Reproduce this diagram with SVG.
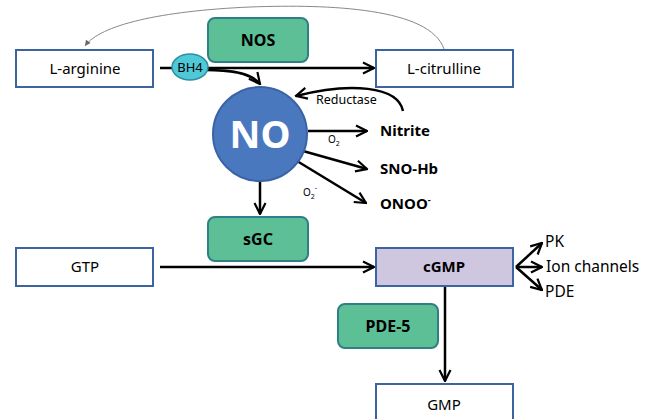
<svg xmlns="http://www.w3.org/2000/svg" width="651" height="419" viewBox="0 0 651 419">
<defs>
<marker id="ah" viewBox="0 0 10 10" refX="9" refY="5" markerWidth="5.5" markerHeight="5.5" orient="auto" markerUnits="strokeWidth"><path d="M1,1 L9,5 L1,9" fill="none" stroke="#000" stroke-width="1.6"/></marker>
<marker id="ahs" viewBox="0 0 10 10" refX="9" refY="5" markerWidth="7" markerHeight="7" orient="auto" markerUnits="strokeWidth"><path d="M1,1 L9,5 L1,9 Z" fill="#666"/></marker>
</defs>
<style>
text{font-family:"Noto Sans","Open Sans","Liberation Sans",sans-serif;fill:#000}
.box{fill:#fff;stroke:#3b64a0;stroke-width:2}
.enz{fill:#5cbf96;stroke:#2f7f86;stroke-width:2}
.lbl{font-size:15px;text-anchor:middle}
.elb{font-size:16px;font-weight:bold;text-anchor:middle}
.prod{font-size:15px;font-weight:bold}
.sm{font-size:12.5px}
.out{font-size:15.5px}
.c{fill:none;stroke:#000;stroke-width:2.5;marker-end:url(#ah)}
</style>
<g id="connectors">
<path d="M444,49 C430,8 330,4 250,7 C160,11 100,25 85,46" fill="none" stroke="#888" stroke-width="1" marker-end="url(#ahs)"/>
<line x1="160" y1="68" x2="374" y2="68" class="c"/>
<path d="M206,70 C235,70 252,74 260,84" class="c"/>
<path d="M403,111 C398,86 350,82 296,96" class="c"/>
<line x1="308" y1="131" x2="367" y2="131" class="c"/>
<line x1="303" y1="151" x2="367" y2="169" class="c"/>
<line x1="297" y1="161" x2="366" y2="203" class="c"/>
<line x1="260" y1="181" x2="260" y2="214" class="c"/>
<line x1="160" y1="267" x2="374" y2="267" class="c"/>
<line x1="516" y1="267" x2="542" y2="243" class="c"/>
<line x1="516" y1="267" x2="542" y2="267" class="c"/>
<line x1="516" y1="267" x2="542" y2="290" class="c"/>
<line x1="445" y1="286" x2="445" y2="381" class="c"/>
</g>
<g id="l-arginine"><rect class="box" x="16" y="50" width="137" height="37"/><text class="lbl" x="85" y="74">L-arginine</text></g>
<g id="nos"><rect class="enz" x="208" y="18" width="100" height="44" rx="7"/><text class="elb" x="258" y="46">NOS</text></g>
<g id="bh4"><ellipse cx="190" cy="67" rx="18" ry="13" fill="#4fc8d8" stroke="#2f8ea0" stroke-width="1.5"/><text x="190" y="72" font-size="13" text-anchor="middle">BH4</text></g>
<g id="l-citrulline"><rect class="box" x="376" y="50" width="137" height="37"/><text class="lbl" x="444" y="74">L-citrulline</text></g>
<g id="no"><circle cx="260" cy="134" r="47" fill="#4a78bf" stroke="#3a63a6" stroke-width="2"/><text x="260" y="148" font-size="38" font-weight="bold" text-anchor="middle" style="fill:#fff">NO</text></g>
<g id="reductase"><text class="sm" x="316" y="104">Reductase</text></g>
<g id="nitrite"><text class="prod" x="380" y="136">Nitrite</text><text x="328" y="143" font-size="10">O<tspan font-size="7" dy="3">2</tspan></text></g>
<g id="sno-hb"><text class="prod" x="380" y="174">SNO-Hb</text></g>
<g id="onoo"><text class="prod" x="380" y="209">ONOO<tspan font-size="9" dy="-6">-</tspan></text><text x="303" y="196" font-size="10">O<tspan font-size="7" dy="3">2</tspan><tspan font-size="7" dy="-9">-</tspan></text></g>
<g id="sgc"><rect class="enz" x="208" y="217" width="100" height="44" rx="7"/><text class="elb" x="258" y="245">sGC</text></g>
<g id="gtp"><rect class="box" x="16" y="248" width="137" height="38"/><text class="lbl" x="85" y="272">GTP</text></g>
<g id="cgmp"><rect x="376" y="248" width="137" height="38" fill="#cfc6e0" stroke="#3b64a0" stroke-width="2"/><text class="lbl" x="444" y="272" font-weight="bold">cGMP</text></g>
<g id="pk"><text class="out" x="545" y="247">PK</text></g>
<g id="ion-channels"><text class="out" x="546" y="272">Ion channels</text></g>
<g id="pde"><text class="out" x="545" y="297">PDE</text></g>
<g id="pde-5"><rect class="enz" x="338" y="304" width="100" height="44" rx="7"/><text class="elb" x="388" y="332">PDE-5</text></g>
<g id="gmp"><rect class="box" x="376" y="384" width="137" height="40"/><text class="lbl" x="444" y="410">GMP</text></g>
</svg>
